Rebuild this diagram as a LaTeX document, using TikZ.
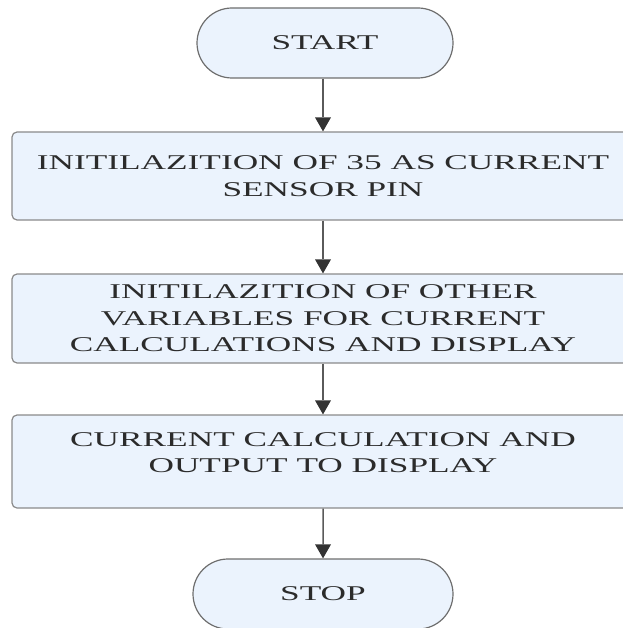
\documentclass[tikz,border=0pt]{standalone}
\usepackage{fontspec}
\setmainfont{Liberation Serif}[FakeStretch=1.68]
\usetikzlibrary{shapes.misc,arrows.meta}

\definecolor{boxfill}{HTML}{EBF3FD}
\definecolor{boxline}{HTML}{8A8A8A}
\definecolor{termline}{HTML}{6E6E6E}
\definecolor{txt}{HTML}{2B2B2B}
\definecolor{arrowline}{HTML}{5A5A5A}
\definecolor{arrowhead}{HTML}{333333}

\begin{document}
\begin{tikzpicture}[x=1pt,y=1pt,
  term/.style={rounded rectangle, draw=termline, fill=boxfill, line width=1.2pt,
    minimum width=256pt, minimum height=70pt, inner sep=0pt, text=txt,
    font=\fontsize{21}{26.5}\selectfont},
  proc/.style={rectangle, rounded corners=5pt, draw=boxline, fill=boxfill,
    line width=1.2pt, minimum width=622pt, inner sep=0pt, text=txt,
    align=center, font=\fontsize{21}{26.5}\selectfont},
  flow/.style={draw=arrowline, line width=1.5pt,
    -{Triangle[length=14pt,width=16pt,fill=arrowhead,line width=0pt]}}]

\useasboundingbox (0,0) rectangle (622,-628);

% terminals and process steps
\node[term] (start) at (325,-43) {START};
\node[proc, minimum height=88pt] (init) at (323,-176)
  {INITILAZITION OF 35 AS CURRENT\\SENSOR PIN};
\node[proc, minimum height=89pt] (vars) at (323,-318.5)
  {INITILAZITION OF OTHER\\VARIABLES FOR CURRENT\\CALCULATIONS AND DISPLAY};
\node[proc, minimum height=93pt, text depth=18pt] (calc) at (323,-461.5)
  {CURRENT CALCULATION AND\\OUTPUT TO DISPLAY};
\node[term, minimum width=260pt] (stop) at (323,-594) {STOP};

% flow
\draw[flow] (start.south -| init.north) -- (init);
\draw[flow] (init) -- (vars);
\draw[flow] (vars) -- (calc);
\draw[flow] (calc) -- (stop);
\end{tikzpicture}
\end{document}
